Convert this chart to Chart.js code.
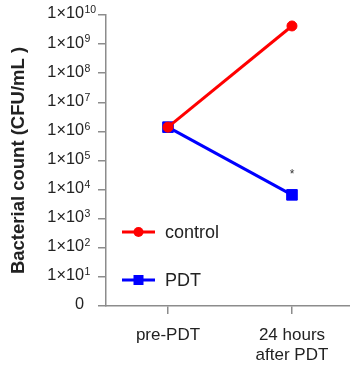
<!DOCTYPE html>
<html>
<head>
<meta charset="utf-8">
<script src="https://cdn.jsdelivr.net/npm/chart.js@4"></script>
<style>
  html, body { margin: 0; padding: 0; background: #fff; }
  #wrap { width: 350px; height: 365px; }
</style>
</head>
<body>
<div id="wrap"><canvas id="grafico"></canvas></div>
<script>
// dados do gráfico
const categories = [['pre-PDT'], ['24 hours', 'after PDT']];
const seriesNames = ['control', 'PDT'];
const controlValues = [1.4e6, 4.2e9];
const pdtValues = [1.4e6, 6.6e3];
const pdtMarks = ['', '*'];

// rótulos do eixo y (potências de 10)
const yTickValues = [1, 1e1, 1e2, 1e3, 1e4, 1e5, 1e6, 1e7, 1e8, 1e9, 1e10];
const yTickBase = ['0', '1×10', '1×10', '1×10', '1×10', '1×10', '1×10', '1×10', '1×10', '1×10', '1×10'];
const yTickExp = ['', '1', '2', '3', '4', '5', '6', '7', '8', '9', '10'];

const axisColor = '#8c8c8c';
const textColor = '#222';
const fontFamily = '"Liberation Sans", Arial, sans-serif';

function toPoints(values) {
    return values.map((v, i) => ({ x: i, y: v }));
}

// rótulos do eixo y com expoente
const yLabels = {
    id: 'yLabels',
    afterDraw(chart) {
        const s = chart.scales.y;
        const ctx = chart.ctx;
        ctx.save();
        ctx.fillStyle = textColor;
        ctx.textBaseline = 'middle';
        yTickValues.forEach((v, i) => {
            const y = s.getPixelForValue(v) - 1;
            ctx.font = '16.3px ' + fontFamily;
            ctx.textAlign = 'right';
            ctx.fillText(yTickBase[i], 84, y);
            if (yTickExp[i]) {
                ctx.font = '10.5px ' + fontFamily;
                ctx.textAlign = 'left';
                ctx.fillText(yTickExp[i], 84.5, y - 3.5);
            }
        });
        ctx.restore();
    }
};

// asterisco e legenda dentro da área
const extras = {
    id: 'extras',
    afterDraw(chart) {
        const ctx = chart.ctx;
        const xs = chart.scales.x;
        const ys = chart.scales.y;
        ctx.save();
        ctx.fillStyle = '#333';
        ctx.font = '12px ' + fontFamily;
        ctx.textAlign = 'center';
        ctx.textBaseline = 'middle';
        pdtMarks.forEach((m, i) => {
            if (m) ctx.fillText(m, xs.getPixelForValue(i), ys.getPixelForValue(pdtValues[i]) - 20);
        });

        const area = chart.chartArea;
        const rows = [area.top + 217, area.top + 265];
        chart.data.datasets.forEach((ds, i) => {
            const y = rows[i];
            const x0 = area.left + 16;
            ctx.strokeStyle = ds.borderColor;
            ctx.fillStyle = ds.borderColor;
            ctx.lineWidth = 3;
            ctx.beginPath();
            ctx.moveTo(x0, y);
            ctx.lineTo(x0 + 33, y);
            ctx.stroke();
            const cx = x0 + 16.5;
            if (ds.pointStyle === 'rect') {
                ctx.fillRect(cx - 5, y - 5, 10, 10);
            } else {
                ctx.beginPath();
                ctx.arc(cx, y, 5, 0, Math.PI * 2);
                ctx.fill();
            }
            ctx.fillStyle = textColor;
            ctx.font = '18px ' + fontFamily;
            ctx.textAlign = 'left';
            ctx.fillText(ds.label, area.left + 59, y + 1);
        });
        ctx.restore();
    }
};

let ctx = document.querySelector('#grafico').getContext('2d');
let chart = new Chart(ctx, {
    type: 'line',
    data: {
        datasets: [{
            label: seriesNames[0],
            data: toPoints(controlValues),
            borderColor: '#ff0000',
            backgroundColor: '#ff0000',
            borderWidth: 3,
            pointStyle: 'circle',
            pointRadius: 5,
            pointBorderWidth: 1
        }, {
            label: seriesNames[1],
            data: toPoints(pdtValues),
            borderColor: '#0000ff',
            backgroundColor: '#0000ff',
            borderWidth: 3,
            pointStyle: 'rect',
            pointRadius: 7.5,
            pointBorderWidth: 1
        }]
    },
    options: {
        responsive: true,
        maintainAspectRatio: false,
        animation: false,
        layout: { autoPadding: false, padding: { top: 15, right: 0, bottom: 0, left: 0 } },
        plugins: {
            legend: { display: false },
            tooltip: { enabled: false }
        },
        scales: {
            x: {
                type: 'linear',
                min: -0.5,
                max: 1.468,
                afterBuildTicks: s => { s.ticks = categories.map((c, i) => ({ value: i })); },
                afterFit: s => { s.height = 59; s.paddingLeft = 0; s.paddingRight = 0; },
                grid: { drawOnChartArea: false, drawTicks: true, tickLength: 8, color: axisColor, lineWidth: 1.5 },
                border: { color: axisColor, width: 1.5 },
                ticks: {
                    color: textColor,
                    padding: 11,
                    font: { family: fontFamily, size: 17 },
                    callback: v => categories[v]
                }
            },
            y: {
                type: 'logarithmic',
                min: 1,
                max: 1e10,
                afterBuildTicks: s => { s.ticks = yTickValues.map(v => ({ value: v })); },
                afterFit: s => { s.width = 106; s.paddingTop = 0; s.paddingBottom = 0; },
                grid: { drawOnChartArea: false, drawTicks: true, tickLength: 8, color: axisColor, lineWidth: 1.5 },
                border: { color: axisColor, width: 1.5 },
                ticks: { display: false },
                title: {
                    display: true,
                    text: 'Bacterial count (CFU/mL )',
                    color: textColor,
                    padding: { top: 8, bottom: 0 },
                    font: { family: fontFamily, size: 18.5, weight: 'bold' }
                }
            }
        }
    },
    plugins: [yLabels, extras]
});
</script>
</body>
</html>
